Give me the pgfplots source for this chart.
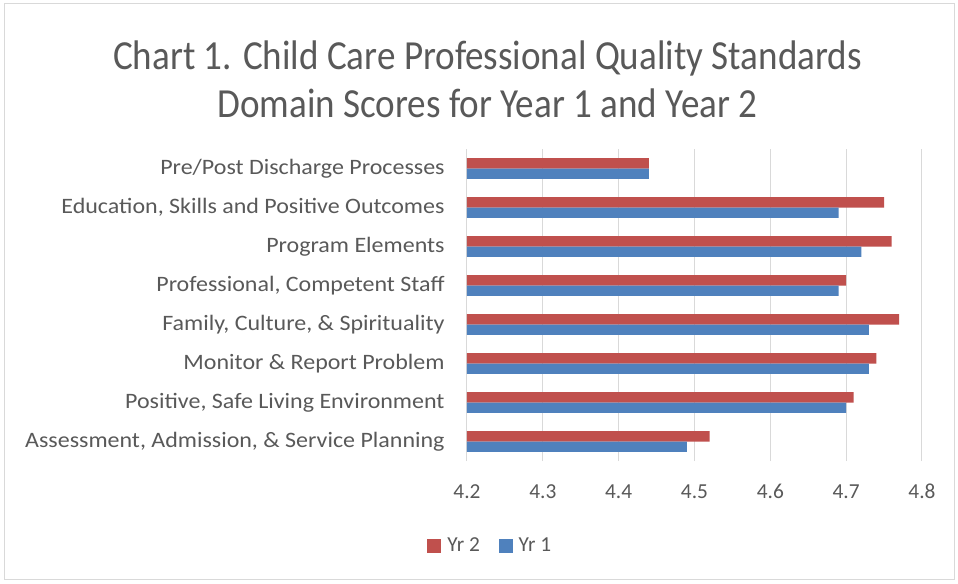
\documentclass[border=0pt]{standalone}
\usepackage{pgfplots}
\pgfplotsset{compat=1.18}
\usepackage{fontspec}
\setmainfont{Carlito}
\definecolor{yrtwo}{HTML}{C0504D}
\definecolor{yrone}{HTML}{4F81BD}
\definecolor{txt}{HTML}{595959}
\definecolor{gridc}{HTML}{D9D9D9}
\begin{document}
\begin{tikzpicture}[x=1pt,y=1pt]
\fill[white] (0,0) rectangle (718.5,437.25);
\draw[gridc, line width=0.75pt] (3,3) rectangle (715.5,434.25);
\node[anchor=base, text=txt, xscale=0.897, font=\fontsize{31}{37}\selectfont] at (365.6,384.75) {Chart 1. Child Care Professional Quality Standards};
\node[anchor=base, text=txt, xscale=0.897, font=\fontsize{31}{37}\selectfont] at (365.6,348.75) {Domain Scores for Year 1 and Year 2};
\begin{axis}[
  at={(350.25pt,91.5pt)}, anchor=south west,
  width=341.25pt, height=234pt, scale only axis,
  xbar, bar width=7.7pt,
  xmin=4.2, xmax=4.8, ymin=-0.5, ymax=7.5,
  xtick={4.2,4.3,4.4,4.5,4.6,4.7,4.8},
  xticklabels={4.2,4.3,4.4,4.5,4.6,4.7,4.8},
  ytick={0,1,2,3,4,5,6,7},
  yticklabels={{Assessment, Admission, \& Service Planning},{Positive, Safe Living Environment},{Monitor \& Report Problem},{Family, Culture, \& Spirituality},{Professional, Competent Staff},{Program Elements},{Education, Skills and Positive Outcomes},{Pre/Post Discharge Processes}},
  xmajorgrids, grid style={gridc, line width=0.75pt},
  axis line style={draw=none},
  major tick length=0pt,
  tick label style={text=txt},
  xticklabel style={yshift=-14pt, font=\fontsize{16}{19}\selectfont},
  yticklabel style={xshift=-13pt, xscale=1.09, font=\fontsize{16.5}{19}\selectfont},
  /pgf/number format/assume math mode=true,
  legend style={draw=none, at={(0.052,-0.272)}, anchor=center, legend columns=2, font=\fontsize{16}{19}\selectfont, text=txt, /tikz/every even column/.append style={column sep=12pt}},
  legend image code/.code={\fill[#1] (0pt,-5.25pt) rectangle (10.5pt,5.25pt); \path (13pt,0pt);},
]
\addplot[draw=none, fill=yrtwo, bar shift=3.85pt] coordinates {(4.52,0) (4.71,1) (4.74,2) (4.77,3) (4.70,4) (4.76,5) (4.75,6) (4.44,7)};
\addlegendentry{Yr 2}
\addplot[draw=none, fill=yrone, bar shift=-3.85pt] coordinates {(4.49,0) (4.70,1) (4.73,2) (4.73,3) (4.69,4) (4.72,5) (4.69,6) (4.44,7)};
\addlegendentry{Yr 1}
\end{axis}
\end{tikzpicture}
\end{document}
